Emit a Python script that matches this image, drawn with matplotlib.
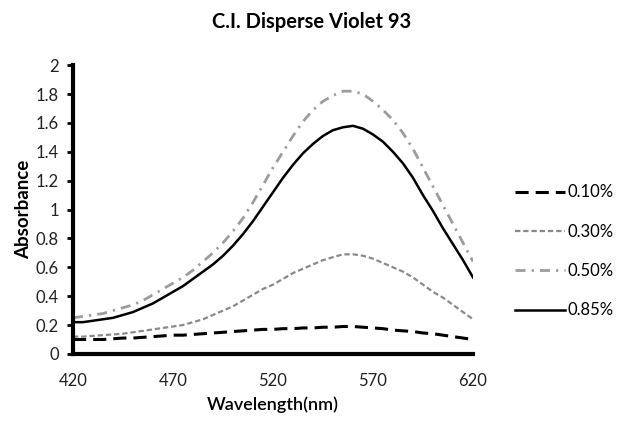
import matplotlib
matplotlib.use("Agg")
import matplotlib.pyplot as plt

wavelength = [420, 425, 430, 435, 440, 445, 450, 455, 460, 465, 470, 475, 480, 485,
              490, 495, 500, 505, 510, 515, 520, 525, 530, 535, 540, 545, 550, 555,
              560, 565, 570, 575, 580, 585, 590, 595, 600, 605, 610, 615, 620]
abs_010 = [0.10, 0.10, 0.10, 0.10, 0.105, 0.11, 0.11, 0.115, 0.12, 0.125, 0.13, 0.13,
           0.135, 0.14, 0.145, 0.15, 0.155, 0.16, 0.165, 0.17, 0.17, 0.175, 0.175,
           0.18, 0.18, 0.185, 0.185, 0.19, 0.19, 0.185, 0.18, 0.175, 0.165, 0.16,
           0.155, 0.145, 0.14, 0.13, 0.12, 0.11, 0.10]
abs_030 = [0.12, 0.12, 0.125, 0.13, 0.135, 0.14, 0.15, 0.16, 0.17, 0.18, 0.19, 0.20,
           0.22, 0.24, 0.27, 0.30, 0.33, 0.37, 0.41, 0.45, 0.48, 0.52, 0.56, 0.59,
           0.62, 0.65, 0.67, 0.69, 0.69, 0.68, 0.66, 0.63, 0.60, 0.57, 0.53, 0.48,
           0.43, 0.39, 0.34, 0.29, 0.24]
abs_050 = [0.25, 0.26, 0.27, 0.28, 0.30, 0.32, 0.34, 0.37, 0.41, 0.45, 0.49, 0.53,
           0.58, 0.64, 0.70, 0.77, 0.85, 0.94, 1.05, 1.17, 1.29, 1.40, 1.51, 1.61,
           1.69, 1.75, 1.79, 1.82, 1.82, 1.80, 1.75, 1.69, 1.62, 1.53, 1.42, 1.29,
           1.16, 1.03, 0.90, 0.77, 0.64]
abs_085 = [0.22, 0.22, 0.23, 0.24, 0.25, 0.27, 0.29, 0.32, 0.35, 0.39, 0.43, 0.47,
           0.52, 0.57, 0.62, 0.68, 0.75, 0.83, 0.92, 1.02, 1.12, 1.22, 1.31, 1.39,
           1.455, 1.51, 1.55, 1.57, 1.58, 1.56, 1.52, 1.47, 1.40, 1.32, 1.22, 1.10,
           0.99, 0.87, 0.76, 0.65, 0.53]
labels = ["0.10%", "0.30%", "0.50%", "0.85%"]
xticks = [420, 470, 520, 570, 620]
yticks = [0, 0.2, 0.4, 0.6, 0.8, 1, 1.2, 1.4, 1.6, 1.8, 2]
ytick_labels = ["0", "0.2", "0.4", "0.6", "0.8", "1", "1.2", "1.4", "1.6", "1.8", "2"]

plt.rcParams['font.family'] = ['Lato', 'DejaVu Sans']

fig = plt.figure(figsize=(6.24, 4.29), dpi=100)
ax = fig.add_axes([0.117, 0.175, 0.641, 0.673])

ax.plot(wavelength, abs_010, color='black', lw=2.2, dashes=(4.3, 2.3), label=labels[0])
ax.plot(wavelength, abs_030, color='#8a8a8a', lw=1.6, dashes=(2.4, 1.3), label=labels[1])
ax.plot(wavelength, abs_050, color='#9c9c9c', lw=2.0, dashes=(3.6, 2.2, 0.8, 2.2), label=labels[2])
ax.plot(wavelength, abs_085, color='black', lw=1.8, label=labels[3])

ax.set_xlim(420, 620)
ax.set_ylim(0, 2)
ax.set_xticks(xticks)
ax.set_xticklabels([str(v) for v in xticks])
ax.set_yticks(yticks)
ax.set_yticklabels(ytick_labels)
ax.tick_params(axis='x', length=0, pad=14, labelsize=12, labelcolor='#222222')
ax.tick_params(axis='y', length=4, width=2, direction='out', pad=6, labelsize=12,
               colors='black', labelcolor='#222222')

for s in ['top', 'right']:
    ax.spines[s].set_visible(False)
for s in ['left', 'bottom']:
    ax.spines[s].set_linewidth(3)
    ax.spines[s].set_color('black')

ax.set_xlabel("Wavelength(nm)", fontsize=13, fontweight='semibold', labelpad=5)
ax.set_ylabel("Absorbance", fontsize=13.5, fontweight='bold', labelpad=3)
fig.suptitle("C.I. Disperse Violet 93", fontsize=14.5, fontweight='bold', x=0.5, y=0.972)

leg = ax.legend(loc='center left', bbox_to_anchor=(1.105, 0.355), frameon=False,
                fontsize=12, handlelength=3.0, handletextpad=0.15, labelspacing=1.4,
                borderpad=0, borderaxespad=0)

fig.savefig("out.png", dpi=100)
